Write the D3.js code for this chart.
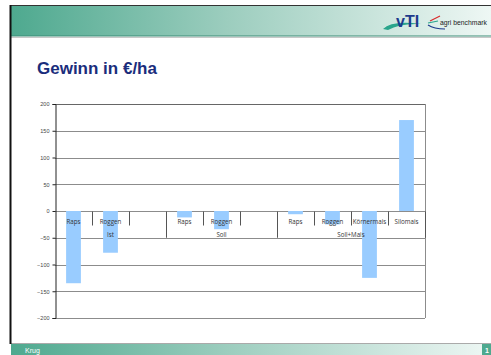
<!DOCTYPE html>
<html>
<head>
<meta charset="utf-8">
<script src="https://cdn.jsdelivr.net/npm/d3@7"></script>
<style>
  html, body { margin: 0; padding: 0; background: #fff; }
  svg { display: block; }
</style>
</head>
<body>
<svg id="slide" width="491" height="355"></svg>
<script>
// Profit per hectare by crop, grouped by scenario
const groups = ["Ist", "Soll", "Soll+Mais"];
const categories = ["Raps", "Roggen", "", "Raps", "Roggen", "", "Raps", "Roggen", "Körnermais", "Silomais"];
const groupIndex = [0, 0, 0, 1, 1, 1, 2, 2, 2, 2];
const values = [-135, -78, null, -12, -34, null, -6, -25, -125, 170];
const yTicks = [-200, -150, -100, -50, 0, 50, 100, 150, 200];

const svg = d3.select("#slide");
const defs = svg.append("defs");

const grad = defs.append("linearGradient").attr("id", "band").attr("x1", 0).attr("x2", 1);
grad.append("stop").attr("offset", "0%").attr("stop-color", "#4ea98f");
grad.append("stop").attr("offset", "45%").attr("stop-color", "#9ccdbe");
grad.append("stop").attr("offset", "100%").attr("stop-color", "#eef7f4");

// Header band
svg.append("rect").attr("x", 11).attr("y", 5).attr("width", 480).attr("height", 31).attr("fill", "url(#band)");
svg.append("line").attr("x1", 10).attr("x2", 491).attr("y1", 5.5).attr("y2", 5.5).attr("stroke", "#333").attr("stroke-width", 1);
svg.append("line").attr("x1", 11).attr("x2", 491).attr("y1", 36).attr("y2", 36).attr("stroke", "#3d8c76").attr("stroke-width", 1);
svg.append("line").attr("x1", 11).attr("x2", 491).attr("y1", 37.5).attr("y2", 37.5).attr("stroke", "#c8c8c8").attr("stroke-width", 1);

// Footer band
svg.append("rect").attr("x", 11).attr("y", 344).attr("width", 480).attr("height", 11).attr("fill", "url(#band)");
svg.append("line").attr("x1", 11).attr("x2", 491).attr("y1", 343.5).attr("y2", 343.5).attr("stroke", "#aaa").attr("stroke-width", 1);
svg.append("text").attr("x", 25).attr("y", 353).attr("fill", "#fff")
  .attr("font-family", "Liberation Sans, Arial, sans-serif").attr("font-size", 7).text("Krug");
svg.append("rect").attr("x", 482).attr("y", 344).attr("width", 9).attr("height", 11).attr("fill", "#4ea98f");
svg.append("text").attr("x", 485).attr("y", 353).attr("fill", "#fff").attr("font-weight", "bold")
  .attr("font-family", "Liberation Sans, Arial, sans-serif").attr("font-size", 7).text("1");

// Left frame line
svg.append("line").attr("x1", 10.5).attr("x2", 10.5).attr("y1", 5).attr("y2", 344).attr("stroke", "#111").attr("stroke-width", 2);

// Logos
const logo = svg.append("g");
logo.append("path").attr("d", "M383,29 Q392,20 421,24 Q400,23 388,30 Z").attr("fill", "#2aa58c");
logo.append("text").attr("x", 396).attr("y", 27).attr("fill", "#1c3a8c").attr("font-weight", "bold")
  .attr("font-family", "Liberation Sans, Arial, sans-serif").attr("font-size", 16).text("vTI");
logo.append("path").attr("d", "M430,21 L440,16").attr("stroke", "#d8282a").attr("stroke-width", 1.2).attr("fill", "none");
logo.append("path").attr("d", "M428,23 L438,21").attr("stroke", "#2aa58c").attr("stroke-width", 1.2).attr("fill", "none");
logo.append("path").attr("d", "M428,25 Q434,29 445,29").attr("stroke", "#1c3a8c").attr("stroke-width", 1.2).attr("fill", "none");
logo.append("text").attr("x", 440).attr("y", 25).attr("fill", "#222")
  .attr("font-family", "Liberation Sans, Arial, sans-serif").attr("font-size", 6.8).text("agri benchmark");

// Title
svg.append("text").attr("x", 37).attr("y", 74).attr("fill", "#1a2d7c").attr("font-weight", "bold")
  .attr("font-family", "Liberation Sans, Arial, sans-serif").attr("font-size", 17).text("Gewinn in €/ha");

// Chart
const plot = { left: 55, right: 425, top: 104, bottom: 318 };
const x = d3.scaleBand().domain(d3.range(categories.length)).range([plot.left, plot.right]).paddingInner(0).paddingOuter(0);
const y = d3.scaleLinear().domain([-200, 200]).range([plot.bottom, plot.top]);
const chart = svg.append("g").attr("font-family", "Open Sans, DejaVu Sans, sans-serif");

// Gridlines
chart.append("g").selectAll("line").data(yTicks.filter(d => d !== -200)).join("line")
  .attr("x1", plot.left).attr("x2", plot.right)
  .attr("y1", d => Math.round(y(d)) + 0.5).attr("y2", d => Math.round(y(d)) + 0.5)
  .attr("stroke", d => d === 200 ? "#666" : "#8c8c8c").attr("stroke-width", 1);
chart.append("line").attr("x1", plot.right + 0.5).attr("x2", plot.right + 0.5)
  .attr("y1", plot.top).attr("y2", plot.bottom).attr("stroke", "#8c8c8c");
chart.append("line").attr("x1", plot.left).attr("x2", plot.right)
  .attr("y1", plot.bottom + 0.5).attr("y2", plot.bottom + 0.5).attr("stroke", "#8c8c8c");

// Bars
chart.append("g").selectAll("rect").data(values.map((v, i) => ({ v, i })).filter(d => d.v !== null)).join("rect")
  .attr("x", d => x(d.i) + x.bandwidth() * 0.3)
  .attr("width", x.bandwidth() * 0.4)
  .attr("y", d => y(Math.max(0, d.v)))
  .attr("height", d => Math.abs(y(d.v) - y(0)))
  .attr("fill", "#99ccff");

// Y axis
const yAxis = d3.axisLeft(y).tickValues(yTicks).tickSize(3).tickFormat(d3.format("d"));
const ya = chart.append("g").attr("transform", `translate(${plot.left + 0.5},0)`).call(yAxis);
ya.select(".domain").attr("stroke", "#222");
ya.selectAll(".tick line").attr("stroke", "#222");
ya.selectAll(".tick text").attr("font-size", 5.5).attr("fill", "#444").attr("x", -6);

// Category axis: short ticks between categories, long ticks between groups
const y0 = Math.round(y(0)) + 0.5;
const boundaries = d3.range(1, categories.length + 1);
chart.append("g").selectAll("line").data(boundaries).join("line")
  .attr("x1", i => Math.round(x(i - 1) + x.bandwidth()) + 0.5)
  .attr("x2", i => Math.round(x(i - 1) + x.bandwidth()) + 0.5)
  .attr("y1", y0)
  .attr("y2", i => (i === categories.length || groupIndex[i] !== groupIndex[i - 1]) ? y(-50) : y0 + 14)
  .attr("stroke", "#555");

chart.append("g").selectAll("text").data(categories).join("text")
  .attr("x", (d, i) => x(i) + x.bandwidth() / 2)
  .attr("y", y0 + 12)
  .attr("text-anchor", "middle")
  .attr("font-size", 6.2).attr("fill", "#333")
  .text(d => d);

chart.append("g").selectAll("text").data(groups).join("text")
  .attr("x", (g, gi) => {
    const idx = groupIndex.map((v, i) => v === gi ? i : -1).filter(i => i >= 0);
    return (x(idx[0]) + x(idx[idx.length - 1]) + x.bandwidth()) / 2;
  })
  .attr("y", y0 + 25.5)
  .attr("text-anchor", "middle")
  .attr("font-size", 6.2).attr("fill", "#333")
  .text(d => d);
</script>
</body>
</html>
